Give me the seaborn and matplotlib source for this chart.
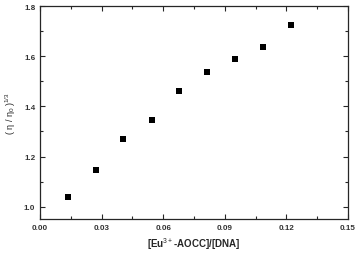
import seaborn as sns
import matplotlib.pyplot as plt
import pandas as pd
from matplotlib.ticker import MultipleLocator

# ratio vs relative viscosity
ratio = [0.0136, 0.0272, 0.0406, 0.0543, 0.0679, 0.0815, 0.0951, 0.1088, 0.1224]
visc = [1.039, 1.145, 1.272, 1.347, 1.462, 1.537, 1.588, 1.636, 1.727]
xticks = [0.00, 0.03, 0.06, 0.09, 0.12, 0.15]
yticks = [1.0, 1.2, 1.4, 1.6, 1.8]

df = pd.DataFrame({'ratio': ratio, 'visc': visc})

sns.set_style('ticks')
plt.rcParams['font.family'] = ['Liberation Sans', 'DejaVu Sans']
plt.rcParams['mathtext.fontset'] = 'custom'
plt.rcParams['mathtext.rm'] = 'Liberation Sans'
plt.rcParams['mathtext.it'] = 'Liberation Sans'
plt.rcParams['mathtext.bf'] = 'Liberation Sans:bold'

fig = plt.figure(figsize=(3.55, 2.55), dpi=100)
ax = fig.add_axes([0.113, 0.137, 0.867, 0.834])
sns.scatterplot(data=df, x='ratio', y='visc', marker='s', s=22,
                color='black', edgecolor='black', linewidth=0, ax=ax)

ax.set_xlim(0.0, 0.15)
ax.set_ylim(0.95, 1.8)
ax.set_xticks(xticks)
ax.set_xticklabels(['%.2f' % v for v in xticks])
ax.set_yticks(yticks)
ax.set_yticklabels(['%.1f' % v for v in yticks])
ax.xaxis.set_minor_locator(MultipleLocator(0.015))
ax.yaxis.set_minor_locator(MultipleLocator(0.1))
ax.tick_params(which='both', direction='in', top=True, right=True,
               labeltop=False, labelright=False, labelsize=5.8, width=0.8,
               labelcolor='#333333')
ax.tick_params(which='major', length=3.5)
ax.tick_params(which='minor', length=2)
for lab in ax.get_xticklabels() + ax.get_yticklabels():
    lab.set_fontweight('bold')
for sp in ax.spines.values():
    sp.set_linewidth(0.9)

ax.set_xlabel(r'[Eu$^{3+}$-AOCC]/[DNA]', fontsize=7, fontweight='bold', labelpad=3)
ax.set_ylabel(r'( $\eta$ / $\eta_0$ )$^{1/3}$', fontsize=6.5, labelpad=4)

fig.savefig('out.png', dpi=100)
